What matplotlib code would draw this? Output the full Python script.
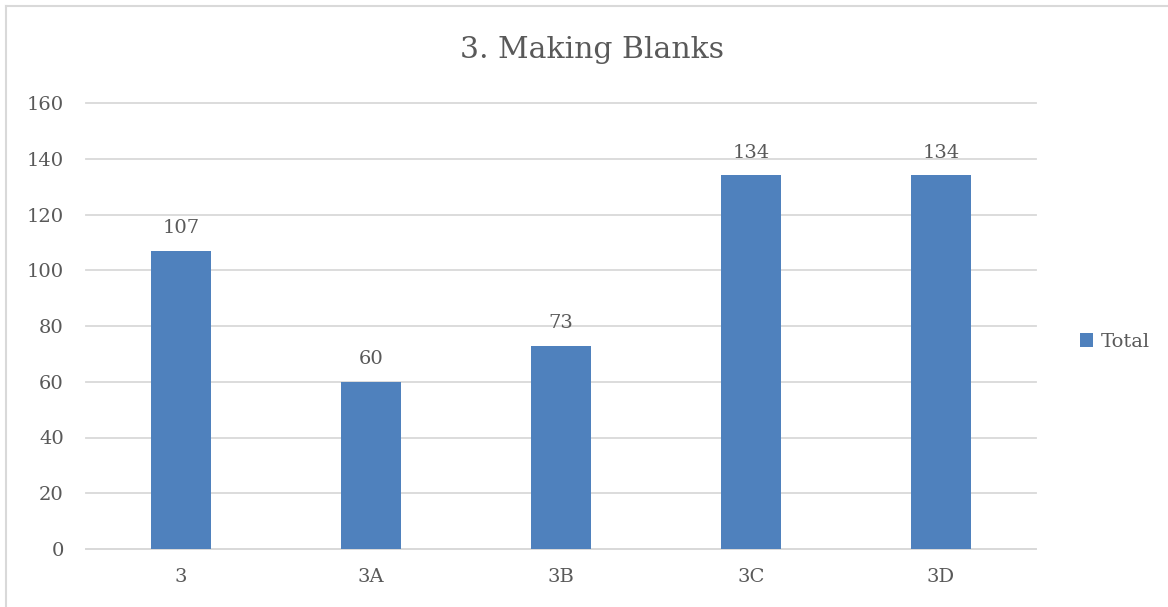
import matplotlib
matplotlib.use("Agg")
import matplotlib.pyplot as plt
from matplotlib.lines import Line2D

categories = ["3", "3A", "3B", "3C", "3D"]
totals = [107, 60, 73, 134, 134]
yticks = [0, 20, 40, 60, 80, 100, 120, 140, 160]
title = "3. Making Blanks"
series_name = "Total"

W, H = 1168, 607
fig = plt.figure(figsize=(W / 100, H / 100), dpi=100)
plt.rcParams['font.family'] = ['DejaVu Serif']
txt = '#595959'
bar_c = '#4f81bd'
grid_c = '#d9d9d9'
fs = 14

ax = fig.add_axes([86 / W, 1 - 549 / H, 950 / W, (549 - 103) / H])
x = range(len(categories))
bars = ax.bar(x, totals, width=0.316, color=bar_c, label=series_name, zorder=3)
ax.set_xlim(-0.5, len(categories) - 0.5)
ax.set_ylim(0, 160)
ax.set_yticks(yticks)
ax.set_xticks(list(x))
ax.set_xticklabels(categories)
ax.yaxis.grid(True, color=grid_c, linewidth=1.3, zorder=0)
for gl in ax.get_ygridlines():
    gl.set_clip_on(False)
for s in ['top', 'right', 'left']:
    ax.spines[s].set_visible(False)
ax.spines['bottom'].set_color(grid_c)
ax.spines['bottom'].set_linewidth(1.3)
ax.tick_params(axis='both', length=0, colors=txt, labelsize=fs)
ax.tick_params(axis='y', pad=16)
ax.tick_params(axis='x', pad=14)
for lab in ax.get_xticklabels() + ax.get_yticklabels():
    lab.set_color(txt)

for xi, v in zip(x, totals):
    ax.annotate(str(v), (xi, v), xytext=(0, 10), textcoords='offset points',
                ha='center', va='bottom', fontsize=fs, color=txt)

fig.text(592 / W, 1 - 50 / H, title, ha='center', va='center', fontsize=21.5, color=txt)

leg = fig.legend(handles=[bars], labels=[series_name], loc='center left',
                 bbox_to_anchor=(1062 / W, 1 - 342 / H), frameon=False,
                 fontsize=fs, handlelength=0.7, handleheight=0.7, handletextpad=0.4)
for t in leg.get_texts():
    t.set_color(txt)

# outer border
fig.add_artist(Line2D([6 / W, 1.0], [1 - 6 / H, 1 - 6 / H], transform=fig.transFigure,
                      color=grid_c, linewidth=1.5))
fig.add_artist(Line2D([6 / W, 6 / W], [0, 1 - 6 / H], transform=fig.transFigure,
                      color=grid_c, linewidth=1.5))

fig.savefig("out.png", dpi=100, facecolor='white')
